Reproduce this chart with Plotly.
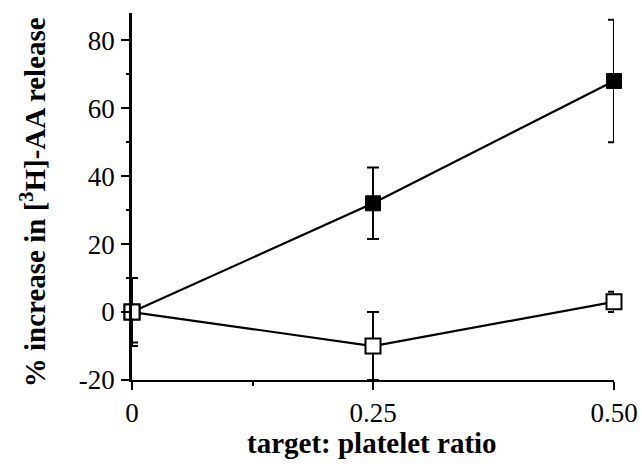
import plotly.graph_objects as go

ratio = [0, 0.25, 0.50]
filled_vals = [0, 32, 68]
filled_err = [10, 10.5, 18]
open_vals = [0, -10, 3]
open_err_plus = [0, 10, 3]
open_err_minus = [9, 10, 3]

x_tick_vals = [0, 0.25, 0.50]
x_tick_text = ["0", "0.25", "0.50"]
y_tick_vals = [-20, 0, 20, 40, 60, 80]
y_tick_text = ["-20", "0", "20", "40", "60", "80"]

x_title = "<b>target: platelet ratio</b>"
y_title = "<b>% increase in [<sup>3</sup>H]-AA release</b>"

font = "Liberation Serif, Times New Roman, serif"

fig = go.Figure()
fig.add_trace(go.Scatter(
    x=ratio, y=open_vals, mode="lines+markers",
    line=dict(color="black", width=2.2),
    marker=dict(symbol="square", size=15, color="white", line=dict(color="black", width=2)),
    error_y=dict(type="data", symmetric=False, array=open_err_plus, arrayminus=open_err_minus,
                 color="black", thickness=2, width=6),
    cliponaxis=False, showlegend=False))
fig.add_trace(go.Scatter(
    x=ratio, y=filled_vals, mode="lines+markers",
    line=dict(color="black", width=2.2),
    marker=dict(symbol="square", size=15, color="black", line=dict(color="black", width=1)),
    error_y=dict(type="data", array=filled_err, color="black", thickness=2, width=6),
    cliponaxis=False, showlegend=False))
fig.add_trace(go.Scatter(
    x=ratio[:1], y=open_vals[:1], mode="markers",
    marker=dict(symbol="square", size=15, color="white", line=dict(color="black", width=2)),
    cliponaxis=False, showlegend=False))

fig.update_layout(
    width=642, height=468,
    margin=dict(l=132, r=28, t=13, b=88, autoexpand=False),
    paper_bgcolor="white", plot_bgcolor="white",
    font=dict(family=font, color="black"),
    xaxis=dict(range=[0, 0.5], tickvals=x_tick_vals, ticktext=x_tick_text,
               showgrid=False, zeroline=False, showline=True, linecolor="black", linewidth=2,
               ticks="outside", ticklen=8, tickwidth=2, tickcolor="black",
               tickfont=dict(size=27, family=font), automargin=False,
               minor=dict(tickvals=[0.125], ticks="outside", ticklen=4, tickwidth=2, tickcolor="black")),
    yaxis=dict(range=[-20, 88], tickvals=y_tick_vals, ticktext=y_tick_text,
               showgrid=False, zeroline=False, showline=True, linecolor="black", linewidth=2.5,
               ticks="outside", ticklen=8, tickwidth=2, tickcolor="black",
               tickfont=dict(size=27, family=font), automargin=False, ticklabelstandoff=1,
               minor=dict(tickvals=[10, 30, 50, 70], ticks="outside", ticklen=3, tickwidth=2, tickcolor="black")),
    annotations=[
        dict(text=x_title, xref="paper", yref="paper", x=0.498, y=-0.172,
             xanchor="center", yanchor="middle", showarrow=False,
             font=dict(size=29, family=font)),
        dict(text=y_title, xref="paper", yref="paper", x=-0.205, y=0.485,
             xanchor="center", yanchor="middle", showarrow=False, textangle=-90,
             font=dict(size=29, family=font)),
    ],
)

fig.write_html("out.html", config={"displayModeBar": False},
               post_script="document.body.style.margin='0';document.body.style.overflow='hidden';")
